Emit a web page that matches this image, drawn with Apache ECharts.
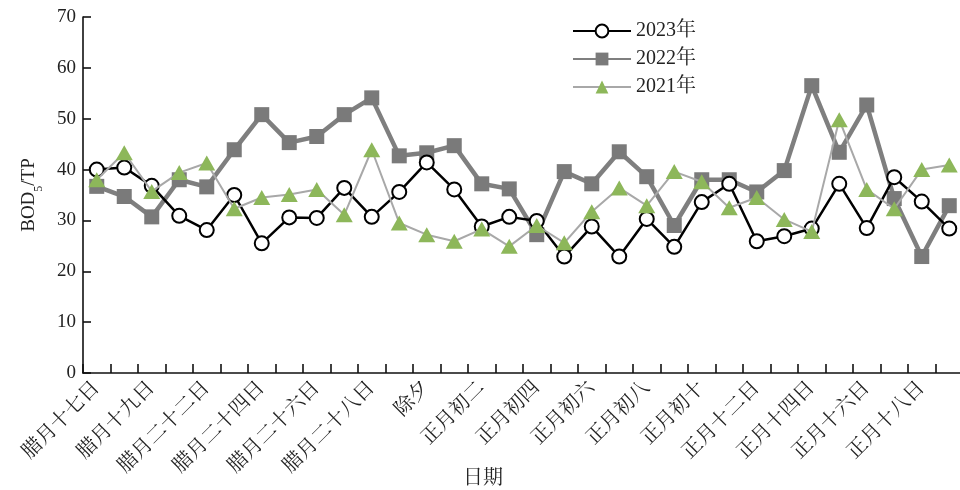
<!DOCTYPE html>
<html>
<head>
<meta charset="utf-8">
<script src="https://cdn.jsdelivr.net/npm/echarts@6/dist/echarts.min.js"></script>
<style>html,body{margin:0;padding:0;background:#fff}#c{width:960px;height:490px}</style>
</head>
<body>
<div id="c"></div>
<script>
const categories = ['腊月十七日','腊月十八日','腊月十九日','腊月二十一日','腊月二十二日','腊月二十三日','腊月二十四日','腊月二十五日','腊月二十六日','腊月二十七日','腊月二十八日','腊月二十九日','除夕','正月初一','正月初二','正月初三','正月初四','正月初五','正月初六','正月初七','正月初八','正月初九','正月初十','正月十一日','正月十二日','正月十三日','正月十四日','正月十五日','正月十六日','正月十七日','正月十八日','正月十九日'];
const seriesNames = ['2023年','2022年','2021年'];
const data2023 = [40.0,40.4,36.8,30.9,28.1,35.0,25.5,30.6,30.5,36.4,30.7,35.6,41.4,36.1,28.8,30.7,29.9,22.9,28.8,22.9,30.3,24.8,33.6,37.2,25.9,26.9,28.4,37.2,28.5,38.5,33.7,28.4];
const data2022 = [36.7,34.7,30.7,38.0,36.6,43.9,50.8,45.3,46.5,50.8,54.1,42.7,43.3,44.7,37.2,36.2,27.2,39.6,37.2,43.5,38.6,29.0,38.0,38.0,35.6,39.8,56.5,43.4,52.7,34.3,22.9,32.9];
const data2021 = [38.0,43.3,35.7,39.4,41.3,32.3,34.5,35.1,36.1,31.1,43.9,29.5,27.2,25.9,28.3,24.9,29.0,25.6,31.7,36.4,32.9,39.6,37.6,32.5,34.5,30.2,27.8,49.8,36.1,32.3,40.0,40.9];
const yTicks = {min: 0, max: 70, interval: 10};
const xAxisTitle = '日期';

const serif = "'Liberation Serif', 'Noto Serif CJK SC', 'Noto Sans CJK SC', serif";
const chart = echarts.init(document.getElementById('c'), null, {renderer: 'canvas'});
chart.setOption({
  backgroundColor: '#fff',
  animation: false,
  title: {
    text: xAxisTitle, left: 463, top: 469, padding: 0,
    textStyle: {fontFamily: serif, fontSize: 20, fontWeight: 'normal', color: '#222'}
  },
  grid: {left: 83, top: 17, width: 880, height: 356, containLabel: false, outerBoundsMode: 'none'},
  legend: {
    left: 567, top: 16, orient: 'vertical', padding: 5,
    itemWidth: 58, itemHeight: 16, itemGap: 8,
    textStyle: {fontFamily: serif, fontSize: 20, color: '#222', lineHeight: 19},
    data: seriesNames
  },
  xAxis: {
    type: 'category', data: categories, boundaryGap: true,
    axisLine: {lineStyle: {color: '#111', width: 1.6}},
    axisTick: {show: true, inside: true, length: 9, interval: 0, lineStyle: {color: '#111', width: 1.6}},
    axisLabel: {interval: 1, rotate: 45, margin: 12, fontFamily: serif, fontSize: 20, color: '#222'},
    splitLine: {show: false}
  },
  yAxis: {
    type: 'value', min: yTicks.min, max: yTicks.max, interval: yTicks.interval,
    name: '{a|BOD}{b|5}{a|/TP}', nameLocation: 'middle', nameGap: 44,
    nameTextStyle: {
      rich: {
        a: {fontFamily: serif, fontSize: 19, color: '#222'},
        b: {fontFamily: serif, fontSize: 12, color: '#222', verticalAlign: 'bottom', padding: [0,0,-6,0]}
      }
    },
    axisLine: {show: true, lineStyle: {color: '#111', width: 1.6}},
    axisTick: {show: true, inside: true, length: 8, lineStyle: {color: '#111', width: 1.6}},
    axisLabel: {margin: 7, fontFamily: serif, fontSize: 19, color: '#222'},
    splitLine: {show: false}
  },
  series: [
    {
      name: seriesNames[0], type: 'line', data: data2023, z: 3,
      symbol: 'circle', symbolSize: 14,
      lineStyle: {color: '#000', width: 2.5},
      itemStyle: {color: '#fff', borderColor: '#000', borderWidth: 2}
    },
    {
      name: seriesNames[1], type: 'line', data: data2022, z: 2,
      symbol: 'rect', symbolSize: 15,
      lineStyle: {color: '#7f7f7f', width: 4.5},
      itemStyle: {color: '#7a7a7a'}
    },
    {
      name: seriesNames[2], type: 'line', data: data2021, z: 4,
      symbol: 'triangle', symbolSize: [17, 15],
      lineStyle: {color: '#a8a8a8', width: 2},
      itemStyle: {color: '#8db75a'}
    }
  ]
});
</script>
</body>
</html>
